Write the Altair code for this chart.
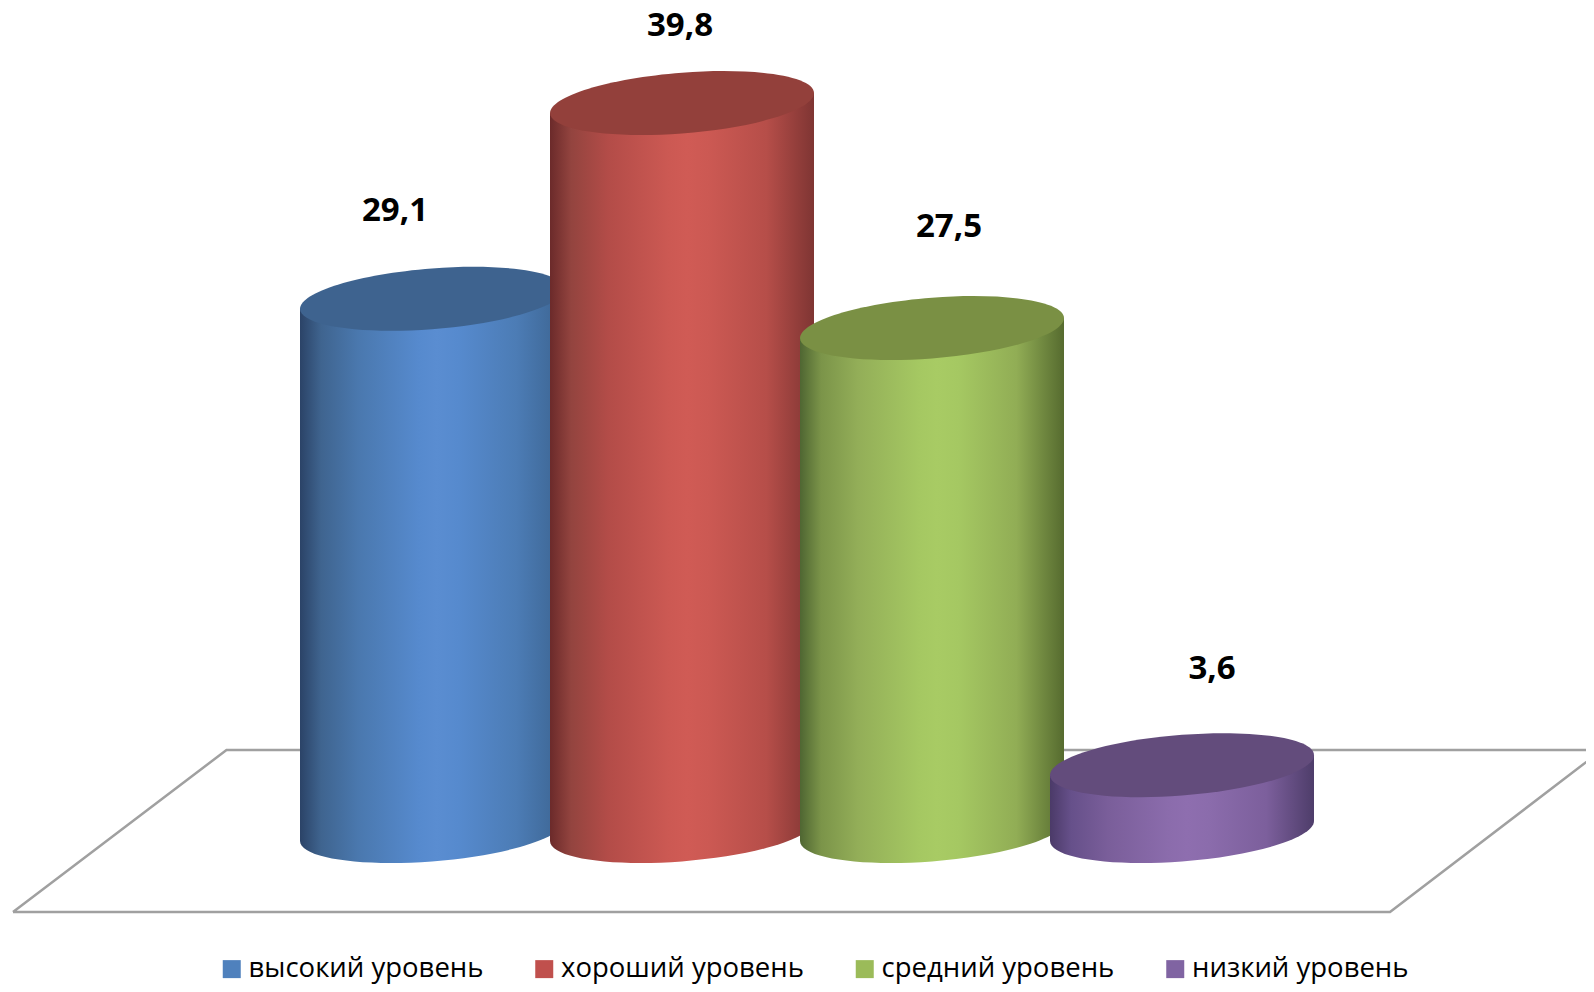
import altair as alt
import pandas as pd

categories = ["высокий уровень", "хороший уровень", "средний уровень", "низкий уровень"]
values = [29.1, 39.8, 27.5, 3.6]
value_labels = ["29,1", "39,8", "27,5", "3,6"]
positions = [0, 1, 2, 3]
legend_colors = ["#4f81bd", "#c0504d", "#9bbb59", "#8064a2"]
top_colors = ["#3e638f", "#93403b", "#7a9044", "#634c7c"]
label_dx = [-37, -2, 17, 30]
label_dy = [-88, -77, -101, -96]

floor_x = [-1.676, -0.822, 4.680, 3.832, -1.676]
floor_y = [-4.43, 4.43, 4.43, -4.43, -4.43]

gradient_stops = [
    [("#2b4367", 0), ("#3f648f", .08), ("#4a78ae", .22), ("#568ace", .45), ("#5a8dd1", .52), ("#568ace", .6), ("#4c7cb5", .82), ("#3c6491", 1)],
    [("#6b2a2a", 0), ("#93443f", .08), ("#b34c48", .22), ("#cc5953", .45), ("#d05b55", .52), ("#cc5953", .6), ("#b64e49", .82), ("#7f3533", 1)],
    [("#4f6632", 0), ("#7b9449", .08), ("#93ae58", .22), ("#a5c862", .45), ("#a8cb64", .52), ("#a5c862", .6), ("#91ad55", .82), ("#566b2f", 1)],
    [("#4b3a68", 0), ("#66508a", .08), ("#7a5e9a", .22), ("#8b6cac", .45), ("#8e6eaf", .52), ("#8b6cac", .6), ("#7c5f9c", .82), ("#4e3d6a", 1)],
]

HALF = 0.528   # half a cylinder, in category steps
TILT = 0.547   # how far the rim's ends sit above/below its centre, in value units
X_SCALE = alt.Scale(domain=[-1.696, 4.616], nice=False, zero=False)
Y_SCALE = alt.Scale(domain=[-8.365, 45.0], nice=False, zero=False)


def ellipse_path():
    """Unit circle under a shear, as four cubic curves (size scales it)."""
    sy, k = 30.4 / 132, -10 / 132
    c = 0.5523
    def m(u, v):
        return f"{u:.4f},{k * u + sy * v:.4f}"
    return (
        f"M{m(1, 0)}C{m(1, c)} {m(c, 1)} {m(0, 1)}"
        f"C{m(-c, 1)} {m(-1, c)} {m(-1, 0)}"
        f"C{m(-1, -c)} {m(-c, -1)} {m(0, -1)}"
        f"C{m(c, -1)} {m(1, -c)} {m(1, 0)}Z"
    )


SHAPE = ellipse_path()
SIZE = 264 ** 2
df = pd.DataFrame({
    "cat": categories, "v": values, "p": positions, "label": value_labels,
    "zero": [0] * 4,
})
# Each body is a parallelogram between the ends of its two rims.
sides = pd.DataFrame(
    [
        {"cat": c, "ax": p + side * HALF, "top": v + side * TILT, "bot": side * TILT}
        for c, v, p in zip(categories, values, positions)
        for side in (-1, 1)
    ]
)

x_q = alt.X("p:Q", scale=X_SCALE, axis=None)
x_a = alt.X("ax:Q", scale=X_SCALE, axis=None)
y_v = alt.Y("v:Q", scale=Y_SCALE, axis=None)
y_a = alt.Y("top:Q", scale=Y_SCALE, axis=None)
layers = []

floor = pd.DataFrame({"fx": floor_x, "fy": floor_y, "o": range(len(floor_x))})
layers.append(
    alt.Chart(floor).mark_line(color="#a0a0a0", strokeWidth=2.5, clip=True, strokeJoin="miter").encode(
        x=alt.X("fx:Q", scale=X_SCALE, axis=None),
        y=alt.Y("fy:Q", scale=Y_SCALE, axis=None),
        order="o:Q",
    )
)

# Flat-coloured bodies, under the shaded ones: these carry the legend.
layers.append(
    alt.Chart(sides).mark_area(opacity=1).encode(
        x=x_a, y=y_a, y2="bot:Q",
        color=alt.Color(
            "cat:N",
            scale=alt.Scale(domain=categories, range=legend_colors),
            sort=categories,
            legend=alt.Legend(
                title=None, orient="none", legendX=210, legendY=947, columns=4,
                columnPadding=46.5, padding=0,
                symbolType="square", symbolSize=324, symbolStrokeWidth=0, symbolOpacity=1,
                labelFont="Open Sans", labelFontSize=27.5, labelColor="#000000", labelOffset=3,
                labelLimit=400,
            ),
        ),
    )
)

for i in range(4):
    one = df.iloc[[i]]
    body = sides[sides["cat"] == categories[i]]
    grad = alt.Gradient(
        gradient="linear", x1=0, x2=1, y1=0, y2=0,
        stops=[alt.GradientStop(color=c, offset=o) for c, o in gradient_stops[i]],
    )
    layers.append(
        alt.Chart(one).mark_point(shape=SHAPE, size=SIZE, filled=True, color=grad, opacity=1, strokeWidth=0).encode(
            x=x_q, y=alt.Y("zero:Q", scale=Y_SCALE, axis=None)
        )
    )
    layers.append(
        alt.Chart(body).mark_area(color=grad, opacity=1).encode(x=x_a, y=y_a, y2="bot:Q")
    )
    layers.append(
        alt.Chart(one).mark_point(shape=SHAPE, size=SIZE, filled=True, color=top_colors[i], opacity=1, strokeWidth=0).encode(
            x=x_q, y=y_v
        )
    )
    layers.append(
        alt.Chart(one).mark_text(
            font="Open Sans", fontSize=33, fontWeight="bold", color="#000000",
            dx=label_dx[i], dy=label_dy[i], baseline="middle", align="center",
        ).encode(x=x_q, y=y_v, text="label:N")
    )

chart = alt.layer(*layers).properties(
    width=1578, height=976, padding=0,
    autosize=alt.AutoSizeParams(type="none"),
).configure_view(stroke=None)

chart.save("out.html", embed_options={"renderer": "svg", "actions": False})
